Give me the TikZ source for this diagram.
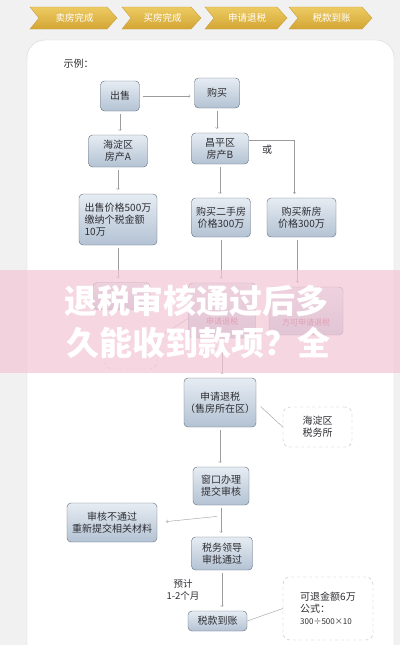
\documentclass[tikz,border=0pt]{standalone}
\usepackage{fontspec}
\setmainfont{Noto Sans CJK SC}
\definecolor{bgcol}{HTML}{F1F1F1}
\definecolor{panelline}{HTML}{D3D7DD}
\definecolor{boxtop}{HTML}{E6ECF3}
\definecolor{boxbottom}{HTML}{B3C2D3}
\definecolor{boxline}{HTML}{5F6C7A}
\definecolor{textdark}{HTML}{2E2E33}
\definecolor{arrowgray}{HTML}{9C9C9C}
\definecolor{chevtop}{HTML}{EDCB62}
\definecolor{chevbottom}{HTML}{D3A534}
\definecolor{chevline}{HTML}{C9A03C}
\definecolor{bandpink}{HTML}{F3C7D6}
\definecolor{hintred}{HTML}{B23A5C}

\begin{document}
\begin{tikzpicture}[x=1pt, y=-1pt]
    % Define styles
    \tikzset{
        flowbox/.style={draw=boxline, rounded corners=4pt, top color=boxtop, bottom color=boxbottom, align=center, text=textdark, font=\fontsize{10}{12}\selectfont, inner sep=1pt},
        notebox/.style={draw=gray!55, dashed, rounded corners=7pt, fill=white, align=center, text=textdark, font=\fontsize{10}{12}\selectfont},
        flowarrow/.style={->, draw=arrowgray, shorten <=3pt, shorten >=4pt},
        linkline/.style={draw=arrowgray},
        chevron/.style={top color=chevtop, bottom color=chevbottom, draw=chevline},
        chevtext/.style={text=white, font=\fontsize{9.5}{11}\selectfont},
        bigtitle/.style={text=white, font=\fontsize{33}{39}\selectfont\bfseries, anchor=west, inner sep=0pt},
        redtext/.style={text=hintred, font=\fontsize{8}{9}\selectfont, inner sep=0pt}
    }

    % Page and panel
    \useasboundingbox (0,0) rectangle (400,645);
    \clip (0,0) rectangle (400,645);
    \fill[bgcol] (0,0) rectangle (400,645);
    \draw[panelline, fill=white, rounded corners=18pt] (27,40) rectangle (394,690);

    % Header steps
    \foreach \xa/\xb/\lbl [count=\i] in {30/117/卖房完成, 122/201/买房完成, 205/287/申请退税, 289/372/税款到账} {
        \shadedraw[chevron] (\xa,7) -- (\xb-10,7) -- (\xb,18) -- (\xb-10,29) -- (\xa,29) -- (\xa+9,18) -- cycle;
        \node[chevtext] (step\i) at ({(\xa+\xb)/2+1},18) {\lbl};
    }

    \node[anchor=west, text=textdark, font=\fontsize{10}{12}\selectfont] (example) at (60,64) {示例：};

    % Sell and buy
    \node[flowbox, minimum width=39pt, minimum height=30pt] (sell) at (120,96) {出售};
    \node[flowbox, minimum width=45pt, minimum height=30pt] (buy) at (217,93) {购买};
    \node[flowbox, minimum width=59pt, minimum height=32pt] (haidian) at (118,151) {海淀区\\房产A};
    \node[flowbox, minimum width=57pt, minimum height=31pt] (changping) at (220,148.5) {昌平区\\房产B};
    \node[text=textdark, font=\fontsize{10}{12}\selectfont] (orlabel) at (267,150) {或};
    \node[flowbox, minimum width=78pt, minimum height=51pt, align=left] (sellprice) at (118,219.5) {出售价格500万\\缴纳个税金额\\10万};
    \node[flowbox, minimum width=59pt, minimum height=39pt] (second) at (221,217.5) {购买二手房\\价格300万};
    \node[flowbox, minimum width=69pt, minimum height=39pt] (newhouse) at (301.5,217.5) {购买新房\\价格300万};

    % Hidden row
    \node[flowbox, minimum width=57pt, minimum height=27pt] (leftbox) at (121.5,296) {};
    \node[notebox, minimum width=52pt, minimum height=31pt] (dashbox) at (131,353.5) {};
    \node[flowbox, minimum width=67pt, minimum height=55pt] (midbox) at (222,310.5) {};
    \node[flowbox, minimum width=74pt, minimum height=48pt] (rightbox) at (306,311) {};
    \node[redtext] (midtext) at (222,321.5) {申请退税};
    \node[redtext] (righttext) at (306,322) {方可申请退税};

    % Refund steps
    \node[flowbox, minimum width=70pt, minimum height=49pt] (apply) at (220,402.5) {申请退税\\（售房所在区）};
    \node[notebox, minimum width=69pt, minimum height=40pt] (office) at (317.5,427) {海淀区\\税务所};
    \node[flowbox, minimum width=56pt, minimum height=38pt] (window) at (221,486) {窗口办理\\提交审核};
    \node[flowbox, minimum width=90pt, minimum height=39pt] (reject) at (112,522.5) {审核不通过\\重新提交相关材料};
    \node[flowbox, minimum width=61pt, minimum height=33pt] (leader) at (222,553.5) {税务领导\\审批通过};
    \node[text=textdark, font=\fontsize{9.5}{12}\selectfont, align=center] (expect) at (183,590) {预计\\1-2个月};
    \node[flowbox, minimum width=59pt, minimum height=20pt] (arrive) at (217.5,621) {税款到账};
    \node[notebox, minimum width=90pt, minimum height=63pt, align=left] (refund) at (328,608.5)
        {可退金额6万\\公式：\\{\fontsize{8}{10}\selectfont 300÷500×10}};
    \coordinate (fork) at (221,516);

    % Connectors
    \draw[flowarrow] (sell.east) -- (sell.east -| buy.west);
    \draw[flowarrow] (sell.south) -- (sell.south |- haidian.north);
    \draw[flowarrow] (haidian.south) -- (haidian.south |- sellprice.north);
    \draw[flowarrow] (buy.south) -- (buy.south |- changping.north);
    \draw[flowarrow] (changping.south) -- (changping.south |- second.north);
    \draw[flowarrow, shorten <=0pt] ([yshift=8pt]changping.east) -| ([xshift=-7pt]newhouse.north);
    \draw[flowarrow] (sellprice.south) -- (sellprice.south |- leftbox.north);
    \draw[flowarrow] (second.south) -- (second.south |- midbox.north);
    \draw[flowarrow] ([xshift=-4pt]newhouse.south) -- ([xshift=-4pt]newhouse.south |- rightbox.north);
    \draw[linkline] ([yshift=-8pt]midbox.west) -- (dashbox.north east);
    \draw[flowarrow] (midbox.south) -- (midbox.south |- apply.north);
    \draw[linkline, shorten <=6pt] (apply.east) -- (office.west);
    \draw[flowarrow] (apply.south) -- (apply.south |- window.north);
    \draw[flowarrow] (window.south) -- (window.south |- leader.north);
    \draw[flowarrow, shorten <=4pt, shorten >=9pt] (fork) -- (reject.east);
    \draw[flowarrow] (leader.south) -- (leader.south |- arrive.north);
    \draw[linkline] (arrive.east) -- (refund.west);

    % Overlay band
    \fill[bandpink, fill opacity=0.72] (0,270) rectangle (400,373);
    \node[bigtitle] (titleone) at (64,301) {退税审核通过后多};
    \node[bigtitle] (titletwo) at (66,343) {久能收到款项？全};

\end{tikzpicture}
\end{document}
